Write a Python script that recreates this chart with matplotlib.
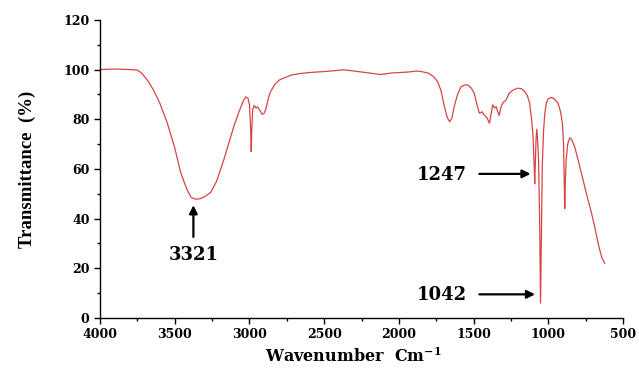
import matplotlib

matplotlib.use("Agg")
import matplotlib.pyplot as plt
from matplotlib.ticker import MultipleLocator

# ── spectrum ─────────────────────────────────────
wavenumber = [4000, 3900, 3800, 3750, 3720, 3680, 3640, 3600, 3550, 3500,
              3460, 3420, 3390, 3360, 3330, 3300, 3260, 3220, 3175, 3140,
              3105, 3070, 3040, 3025, 3010, 3000, 2992, 2988, 2984, 2978,
              2968, 2955, 2945, 2930, 2915, 2903, 2890, 2875, 2860, 2830,
              2800, 2770, 2720, 2660, 2600, 2500, 2420, 2370, 2300, 2200,
              2120, 2050, 1990, 1940, 1880, 1850, 1800, 1765, 1740, 1718,
              1695, 1675, 1660, 1645, 1630, 1607, 1585, 1560, 1540, 1515,
              1496, 1478, 1461, 1445, 1428, 1410, 1394, 1383, 1372, 1360,
              1349, 1338, 1329, 1316, 1304, 1282, 1262, 1235, 1204, 1180,
              1160, 1140, 1125, 1112, 1102, 1095, 1091, 1087, 1082, 1077,
              1072, 1065, 1058, 1052, 1047, 1040, 1032, 1024, 1013, 1000,
              980, 960, 935, 918, 905, 898, 893, 890, 886, 880,
              870, 857, 845, 824, 800, 779, 755, 734, 710, 690,
              670, 656, 640, 622]
transmittance = [100, 100.2, 100, 99.8, 98.5, 95.5, 91.5, 86.5, 78.5, 68.5,
                 58.5, 52, 48.5, 47.8, 48, 48.8, 50.5, 55, 63, 70,
                 77, 83, 87.5, 89, 88.5, 86, 76, 67, 76, 84,
                 85.5, 84.5, 85, 83.5, 82, 82.3, 84, 88, 91, 94,
                 95.8, 96.6, 97.8, 98.4, 98.8, 99.2, 99.6, 99.9, 99.4, 98.6,
                 98, 98.6, 98.8, 99, 99.4, 99.2, 98.5, 97, 95, 91.5,
                 85, 80.5, 79, 80.5, 85, 90, 93, 93.8, 93.8, 92.5,
                 90.5, 86, 82.4, 83, 81.7, 80.5, 78.4, 82, 85.8, 84.5,
                 85.1, 83, 81.5, 85, 86.6, 87.8, 90.5, 91.8, 92.5, 92.3,
                 91.3, 89.5, 86.5, 80, 73, 62, 54, 62, 72, 76,
                 72, 63, 40, 6, 30, 62, 75, 82, 86.6, 88.2,
                 88.8, 88.2, 86.5, 83, 78, 70, 55, 44, 55, 64,
                 70, 72.5, 72, 69, 63.5, 58.3, 52.5, 47.5, 42, 36.8,
                 31, 27.4, 24, 22]

peak_labels = ["3321", "1247", "1042"]

# wide bold serif for horizontal text (reference text looks stretched)
plt.rcParams["font.family"] = ["DejaVu Serif"]
plt.rcParams["font.weight"] = "bold"
plt.rcParams["mathtext.default"] = "regular"

fig = plt.figure(figsize=(6.39, 3.68), dpi=100)
ax = fig.add_axes([0.1565, 0.136, 0.8185, 0.81])

ax.plot(wavenumber, transmittance, color="#d64545", lw=0.9)

ax.set_xlim(4000, 500)
ax.set_ylim(0, 120)
ax.xaxis.set_major_locator(MultipleLocator(500))
ax.xaxis.set_minor_locator(MultipleLocator(250))
ax.yaxis.set_major_locator(MultipleLocator(20))
ax.yaxis.set_minor_locator(MultipleLocator(10))
ax.tick_params(which="major", length=4, width=1, labelsize=9, direction="out")
ax.tick_params(which="minor", length=2.5, width=1, direction="out")
for lab in ax.get_xticklabels() + ax.get_yticklabels():
    lab.set_fontweight("bold")

for s in ("top", "right"):
    ax.spines[s].set_visible(False)
for s in ("left", "bottom"):
    ax.spines[s].set_linewidth(1)

ax.set_ylabel("Transmittance  (%)", fontsize=13.5, fontweight="bold",
              family=["Liberation Serif"])
ax.yaxis.set_label_coords(-0.122, 0.5)
ax.set_xlabel("Wavenumber  Cm$^{-1}$", fontsize=11.5, fontweight="bold")
ax.xaxis.set_label_coords(0.485, -0.1)

arrow = dict(arrowstyle="-|>", color="black", lw=1.6, mutation_scale=12)
ax.annotate("", xy=(3375, 46.5), xytext=(3375, 31.5), arrowprops=arrow)
ax.text(3375, 25.5, peak_labels[0], ha="center", va="center",
        fontsize=13, fontweight="bold")

ax.annotate("", xy=(1100, 58), xytext=(1480, 58), arrowprops=arrow)
ax.text(1545, 57.6, peak_labels[1], ha="right", va="center",
        fontsize=13, fontweight="bold")
ax.annotate("", xy=(1070, 9.5), xytext=(1480, 9.5), arrowprops=arrow)
ax.text(1545, 9.3, peak_labels[2], ha="right", va="center",
        fontsize=13, fontweight="bold")

fig.savefig("out.png", dpi=100)
